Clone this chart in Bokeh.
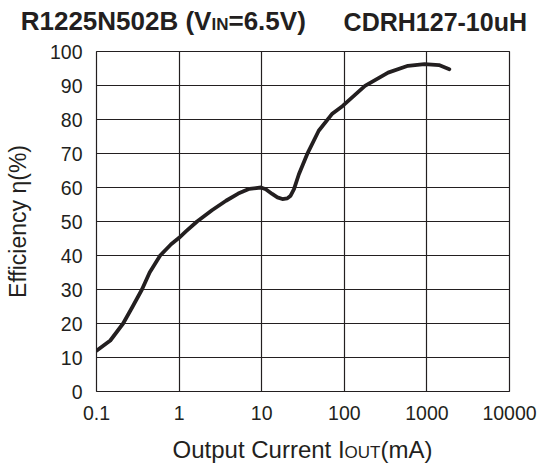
from bokeh.plotting import figure
from bokeh.models import Range1d, FixedTicker, CustomJSTickFormatter, Div
from bokeh.layouts import column
from bokeh.embed import file_html
from bokeh.resources import INLINE

# ---- data ----
x_current = [0.1, 0.147, 0.21, 0.274, 0.355, 0.44, 0.59, 0.8, 1.0, 1.2, 1.65, 2.5,
             3.7, 5.2, 7.1, 9.8, 11.2, 13.4, 15.5, 17.8, 20.4, 22.4, 24.6, 28.2,
             35.5, 49, 70.8, 95.6, 178, 339, 590, 935, 1400, 1870]
y_eff = [12.0, 15.0, 20.0, 25.0, 30.0, 35.0, 40.0, 43.3, 45.2, 47.0, 50.0, 53.3,
         56.1, 58.2, 59.6, 60.0, 59.5, 58.1, 57.1, 56.6, 56.8, 57.6, 59.5, 63.9,
         69.8, 76.7, 81.6, 84.0, 89.9, 93.8, 95.8, 96.3, 96.0, 94.8]
x_ticks = [0.1, 1, 10, 100, 1000, 10000]
x_tick_labels = ["0.1", "1", "10", "100", "1000", "10000"]
y_ticks = [0, 10, 20, 30, 40, 50, 60, 70, 80, 90, 100]

INK = "#231f20"
FONT = "Liberation Sans"

p = figure(width=544, height=391, x_axis_type="log",
           x_range=Range1d(0.1, 10000), y_range=Range1d(0, 100),
           output_backend="svg", toolbar_location=None,
           min_border_left=96, min_border_right=35,
           min_border_top=14, min_border_bottom=37, margin=0)
p.background_fill_color = "white"
p.border_fill_color = "white"
p.outline_line_color = INK
p.outline_line_width = 1.2

p.xaxis.ticker = FixedTicker(ticks=x_ticks, minor_ticks=[])
p.yaxis.ticker = FixedTicker(ticks=y_ticks, minor_ticks=[])
p.xaxis.formatter = CustomJSTickFormatter(
    args=dict(tv=x_ticks, tl=x_tick_labels),
    code="for (let i = 0; i < tv.length; i++) { if (Math.abs(tv[i] - tick) < 1e-9 * Math.max(1, tv[i])) return tl[i]; } return '';")

for ax in (p.xaxis, p.yaxis):
    ax.axis_line_color = None
    ax.major_tick_line_color = None
    ax.minor_tick_line_color = None
    ax.major_tick_out = 0
    ax.major_tick_in = 0
    ax.major_label_text_font = FONT
    ax.major_label_text_font_size = "19.5px"
    ax.major_label_text_color = INK
    ax.major_label_standoff = 14

p.yaxis.axis_label = "Efficiency \u03b7(%)"
p.yaxis.axis_label_text_font = FONT
p.yaxis.axis_label_text_font_size = "23px"
p.yaxis.axis_label_text_font_style = "normal"
p.yaxis.axis_label_text_color = INK
p.yaxis.axis_label_standoff = 16

for g in (p.xgrid, p.ygrid):
    g.grid_line_color = INK
    g.grid_line_width = 1.2
    g.grid_line_alpha = 1.0

p.line(x_current, y_eff, line_color=INK, line_width=3.8,
       line_cap="round", line_join="round")

span_base = f"position:absolute;white-space:pre;font-family:'{FONT}';color:{INK};"
title_html = (
    f"<div style='position:relative;width:544px;height:37px;'>"
    f"<span style=\"{span_base}left:20.7px;top:9.2px;font-size:26px;line-height:25px;font-weight:bold;\">"
    f"R1225N502B (V<span style='font-size:17px;'>IN</span>=6.5V)</span>"
    f"<span style=\"{span_base}right:17px;top:9.5px;font-size:25px;line-height:25px;font-weight:bold;\">"
    f"CDRH127-10uH</span></div>"
)
xlab_html = (
    f"<div style='position:relative;width:544px;height:37px;'>"
    f"<span style=\"{span_base}left:0;width:605px;text-align:center;top:10.2px;font-size:24px;line-height:24px;\">"
    f"Output Current I<span style='font-size:17px;'>OUT</span>(mA)</span></div>"
)
title_div = Div(text=title_html, width=544, height=37, margin=0)
xlab_div = Div(text=xlab_html, width=544, height=37, margin=0)

layout = column(title_div, p, xlab_div, spacing=0, margin=0)

open("out.html", "w").write(file_html(layout, INLINE))
